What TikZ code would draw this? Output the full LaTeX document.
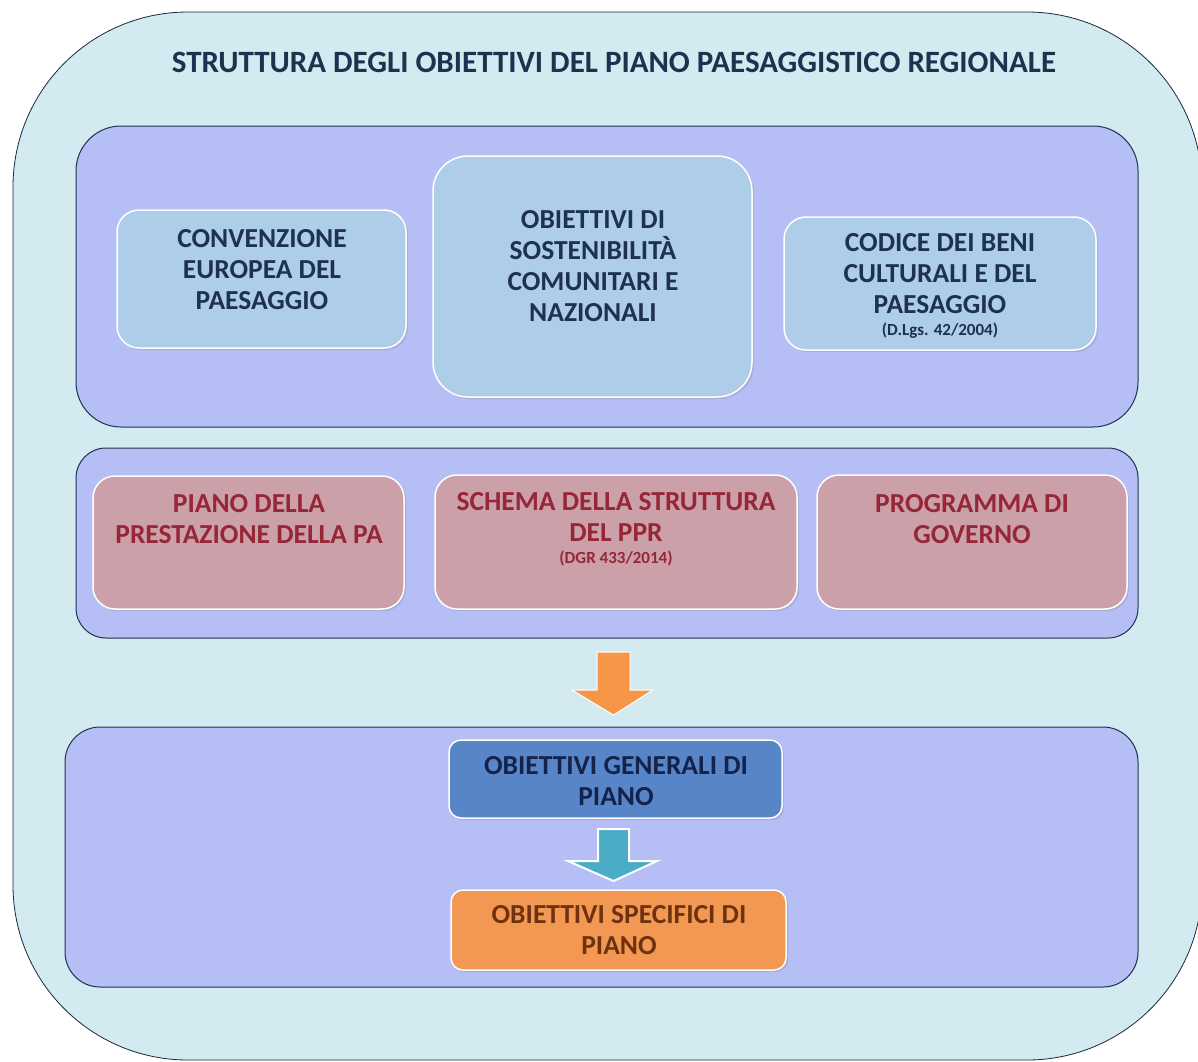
\documentclass[tikz,border=0pt]{standalone}
\usepackage{fontspec}
\setmainfont{Carlito}
\usetikzlibrary{shadows}
\definecolor{outerfill}{RGB}{210,234,240}
\definecolor{panelfill}{RGB}{181,190,245}
\definecolor{navy}{RGB}{30,50,80}
\definecolor{lbfill}{RGB}{174,205,232}
\definecolor{redfill}{RGB}{204,160,168}
\definecolor{redtxt}{RGB}{150,38,56}
\definecolor{genfill}{RGB}{88,132,200}
\definecolor{gentxt}{RGB}{20,35,75}
\definecolor{specfill}{RGB}{242,152,82}
\definecolor{spectxt}{RGB}{110,50,15}
\definecolor{orarrow}{RGB}{247,150,70}
\definecolor{tealarrow}{RGB}{75,172,198}
\begin{document}
\begin{tikzpicture}[x=1pt,y=-1pt,
  outerbox/.style={draw=navy!80!black, line width=0.8pt, fill=outerfill, rounded corners=175pt},
  panel/.style={draw=navy, line width=1pt, fill=panelfill},
  inbox/.style={draw=white, line width=1.5pt, drop shadow={shadow xshift=2pt, shadow yshift=-2pt, opacity=0.25}},
  lbbox/.style={inbox, fill=lbfill, rounded corners=22pt},
  rbox/.style={inbox, fill=redfill, rounded corners=22pt},
  txt/.style={align=center, font=\fontsize{27.5}{31}\selectfont\bfseries},
  small/.style={font=\fontsize{17}{20}\selectfont\bfseries}
]
\useasboundingbox (0,0) rectangle (1198,1061);
\begin{scope}
\clip (0,0) rectangle (1198,1061);
% outer frame
\node[outerbox, minimum width=1189pt, minimum height=1048pt, inner sep=0pt] (outer) at (607.5,536) {};
\end{scope}
\node[font=\fontsize{31}{34}\selectfont\bfseries, text=navy] (title) at (614,62) {STRUTTURA DEGLI OBIETTIVI DEL PIANO PAESAGGISTICO REGIONALE};
% panels
\node[panel, rounded corners=45pt, minimum width=1062pt, minimum height=301pt, inner sep=0pt] (p1) at (607,276.5) {};
\node[panel, rounded corners=30pt, minimum width=1062pt, minimum height=190pt, inner sep=0pt] (p2) at (607,543) {};
\node[panel, rounded corners=35pt, minimum width=1073pt, minimum height=260pt, inner sep=0pt] (p3) at (601.5,857) {};
% top boxes
\node[lbbox, minimum width=289pt, minimum height=138pt, inner sep=0pt] (conv) at (261.5,279) {};
\node[txt, text=navy] (convt) at (262,270) {CONVENZIONE\\EUROPEA DEL\\PAESAGGIO};
\node[lbbox, rounded corners=35pt, minimum width=319pt, minimum height=241pt, inner sep=0pt] (sost) at (592.5,276.5) {};
\node[txt, text=navy] (sostt) at (593,266) {OBIETTIVI DI\\SOSTENIBILITÀ\\COMUNITARI E\\NAZIONALI};
\node[lbbox, minimum width=312pt, minimum height=133pt, inner sep=0pt] (cod) at (940,283.5) {};
\node[txt, text=navy] (codt) at (940,274) {CODICE DEI BENI\\CULTURALI E DEL\\PAESAGGIO};
\node[small, text=navy] (codn) at (940,331) {(D.Lgs. 42/2004)};
% red boxes
\node[rbox, minimum width=311pt, minimum height=133pt, inner sep=0pt] (pia) at (248.5,542.5) {};
\node[txt, text=redtxt] (piat) at (249,519.5) {PIANO DELLA\\PRESTAZIONE DELLA PA};
\node[rbox, minimum width=362pt, minimum height=134pt, inner sep=0pt] (sch) at (616,542) {};
\node[txt, text=redtxt] (scht) at (616,517) {SCHEMA DELLA STRUTTURA\\DEL PPR};
\node[small, text=redtxt] (schn) at (616,558) {(DGR 433/2014)};
\node[rbox, minimum width=310pt, minimum height=134pt, inner sep=0pt] (pro) at (972,542) {};
\node[txt, text=redtxt] (prot) at (972,519.5) {PROGRAMMA DI\\GOVERNO};
% orange arrow
\draw[draw=white, line width=1pt, fill=orarrow] (597,652) -- (630,652) -- (630,690) -- (653,690) -- (613.5,715) -- (572,690) -- (597,690) -- cycle;
% bottom boxes
\node[inbox, fill=genfill, rounded corners=12pt, minimum width=333pt, minimum height=78pt, inner sep=0pt] (gen) at (615.5,779) {};
\node[txt, text=gentxt] (gent) at (616,781) {OBIETTIVI GENERALI DI\\PIANO};
\draw[draw=white, line width=2pt, fill=tealarrow] (598,829) -- (629,829) -- (629,861) -- (657,861) -- (613.5,881) -- (568,861) -- (598,861) -- cycle;
\node[inbox, fill=specfill, rounded corners=12pt, minimum width=335pt, minimum height=80pt, inner sep=0pt] (spec) at (618.5,930) {};
\node[txt, text=spectxt] (spect) at (619,930) {OBIETTIVI SPECIFICI DI\\PIANO};
\end{tikzpicture}
\end{document}
